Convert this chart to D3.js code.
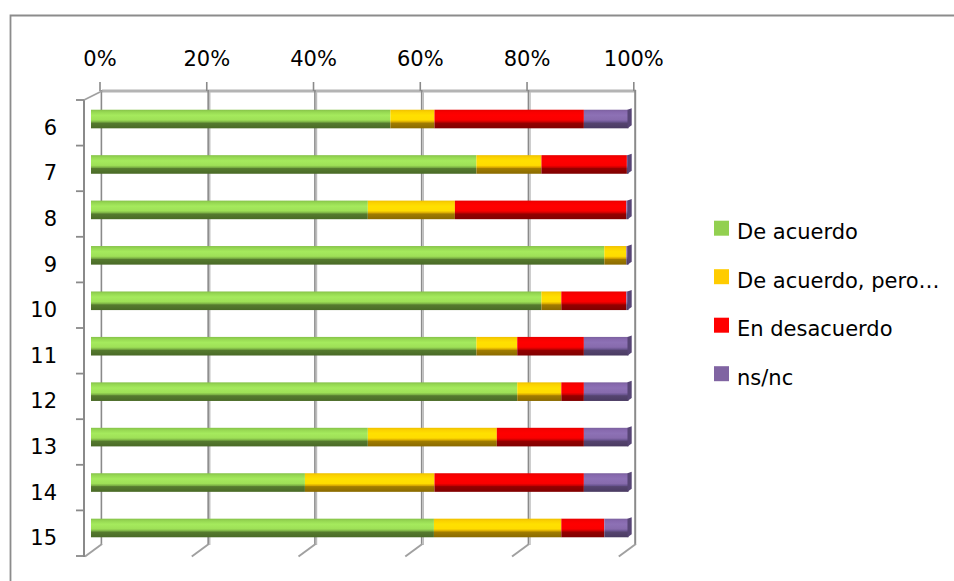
<!DOCTYPE html>
<html>
<head>
<meta charset="utf-8">
<script src="https://cdn.jsdelivr.net/npm/d3@7"></script>
<style>
  html, body { margin: 0; padding: 0; background: #fff; }
  svg { display: block; font-family: "DejaVu Sans", sans-serif; }
</style>
</head>
<body>
<svg id="chart" width="954" height="581"></svg>
<script>
// ---- data ----
const categories = ["6", "7", "8", "9", "10", "11", "12", "13", "14", "15"];
const seriesNames = ["De acuerdo", "De acuerdo, pero…", "En desacuerdo", "ns/nc"];
const deAcuerdo   = [55.7, 71.7, 51.5, 95.5, 83.8, 71.7, 79.3, 51.5, 39.8, 63.8];
const deAcuerdoPero = [8.2, 12.1, 16.2, 4.1, 3.7, 7.6, 8.2, 24.0, 24.1, 23.7];
const enDesacuerdo = [27.8, 15.9, 31.9, 0.0, 12.1, 12.4, 4.2, 16.2, 27.8, 8.0];
const nsnc        = [8.3, 0.3, 0.4, 0.4, 0.4, 8.3, 8.3, 8.3, 8.3, 4.5];
const tickValues  = [0, 20, 40, 60, 80, 100];
const tickLabels  = ["0%", "20%", "40%", "60%", "80%", "100%"];

const seriesColors = ["#92D050", "#FFCC00", "#FF0000", "#8064A2"];
const gradStops = [
  [["0", "#86c24a"], ["0.12", "#96d852"], ["0.3", "#a5ea5d"], ["0.55", "#9ee057"], ["0.66", "#7bb044"], ["0.72", "#557a2e"], ["1", "#4a6a27"]],
  [["0", "#eec000"], ["0.12", "#fbd200"], ["0.3", "#ffe000"], ["0.55", "#ffdc00"], ["0.66", "#d8a800"], ["0.72", "#a07c00"], ["1", "#8a6a00"]],
  [["0", "#e60000"], ["0.12", "#f80000"], ["0.3", "#ff0000"], ["0.55", "#fa0000"], ["0.66", "#c80000"], ["0.72", "#940000"], ["1", "#800000"]],
  [["0", "#7b619e"], ["0.12", "#8769ae"], ["0.3", "#8d71b5"], ["0.55", "#876bad"], ["0.66", "#6a5590"], ["0.72", "#55446f"], ["1", "#4a3b62"]]
];

const rows = categories.map((c, i) => ({
  cat: c,
  v: [deAcuerdo[i], deAcuerdoPero[i], enDesacuerdo[i], nsnc[i]]
}));

const svg = d3.select("#chart");

// outer border (only top & left visible)
svg.append("path")
  .attr("d", "M10.5,581 V15.5 H954")
  .attr("fill", "none").attr("stroke", "#8c8c8c").attr("stroke-width", 1.8);

// ---- scales ----
const xFront = d3.scaleLinear().domain([0, 100]).range([91, 628.5]);
const xBack  = d3.scaleLinear().domain([0, 100]).range([102, 635.8]);
const yWall  = d3.scaleBand().domain(categories).range([100, 556]).padding(0);
const yFront = d3.scaleBand().domain(categories).range([96.3, 550.7]).padding(0);
const barH = 18.6;

// gradients
const defs = svg.append("defs");
gradStops.forEach((stops, k) => {
  const g = defs.append("linearGradient").attr("id", "g" + k)
    .attr("x1", 0).attr("y1", 0).attr("x2", 0).attr("y2", 1);
  stops.forEach(s => g.append("stop").attr("offset", s[0]).attr("stop-color", s[1]));
});

const wallTop = 91, wallBottom = 545;

// back wall top edge
svg.append("line")
  .attr("x1", xBack(0)).attr("x2", xBack(100))
  .attr("y1", wallTop).attr("y2", wallTop)
  .attr("stroke", "#b4b4b4").attr("stroke-width", 3);

// vertical gridlines + floor diagonals
const grid = svg.append("g");
tickValues.forEach(t => {
  const xb = xBack(t);
  const last = t === 100;
  grid.append("line")
    .attr("x1", xb - 0.6).attr("x2", xb - 0.6)
    .attr("y1", wallTop - 1).attr("y2", wallBottom)
    .attr("stroke", "#8a8a8a").attr("stroke-width", last ? 2 : 1.6);
  if (!last && t !== 0) {
    grid.append("line")
      .attr("x1", xb + 1).attr("x2", xb + 1)
      .attr("y1", wallTop + 1).attr("y2", wallBottom)
      .attr("stroke", "#bdbdbd").attr("stroke-width", 1.4);
  }
  // floor diagonal
  grid.append("line")
    .attr("x1", xb).attr("y1", wallBottom - 1)
    .attr("x2", xb - 17).attr("y2", 556.5)
    .attr("stroke", "#a0a0a0").attr("stroke-width", 2);
  // top tick
  grid.append("line")
    .attr("x1", xb - 2).attr("x2", xb - 2)
    .attr("y1", 82).attr("y2", wallTop)
    .attr("stroke", "#8a8a8a").attr("stroke-width", 1.6);
});

// top labels
svg.append("g").selectAll("text")
  .data(tickValues)
  .join("text")
  .attr("x", d => xBack(d) - 2)
  .attr("y", 66)
  .attr("text-anchor", "middle")
  .attr("font-size", 21)
  .attr("fill", "#000")
  .text((d, i) => tickLabels[i]);

// left axis
svg.append("line")
  .attr("x1", 84).attr("x2", 84).attr("y1", yWall.range()[0]).attr("y2", yWall.range()[1] + 1)
  .attr("stroke", "#8a8a8a").attr("stroke-width", 2);
svg.append("line")
  .attr("x1", 84).attr("y1", yWall.range()[0])
  .attr("x2", xBack(0)).attr("y2", wallTop)
  .attr("stroke", "#a0a0a0").attr("stroke-width", 1.8);
const boundaries = categories.map(c => yWall(c)).concat([yWall.range()[1]]);
svg.append("g").selectAll("line")
  .data(boundaries)
  .join("line")
  .attr("x1", 76).attr("x2", 84)
  .attr("y1", d => d).attr("y2", d => d)
  .attr("stroke", "#8a8a8a").attr("stroke-width", 1.8);

// category labels
svg.append("g").selectAll("text")
  .data(categories)
  .join("text")
  .attr("x", 57)
  .attr("y", d => yWall(d) + yWall.bandwidth() / 2 + 12)
  .attr("text-anchor", "end")
  .attr("font-size", 21)
  .attr("fill", "#000")
  .text(d => d);

// bars
const bars = svg.append("g");
rows.forEach(r => {
  const y0 = yFront(r.cat) + yFront.bandwidth() / 2 - barH / 2;
  let acc = 0;
  const segs = r.v.map((v, k) => {
    const s = { k, a: acc, b: acc + v };
    acc += v;
    return s;
  });
  bars.selectAll(null)
    .data(segs.filter(s => s.b > s.a))
    .join("rect")
    .attr("x", s => xFront(s.a))
    .attr("y", y0)
    .attr("width", s => xFront(s.b) - xFront(s.a))
    .attr("height", barH)
    .attr("fill", s => "url(#g" + s.k + ")");
  // right end cap (3D face)
  const xe = xFront(acc);
  bars.append("path")
    .attr("d", `M${xe - 1},${y0} L${xe + 3.2},${y0 - 1.5} L${xe + 3.2},${y0 + barH - 3} L${xe - 1},${y0 + barH} Z`)
    .attr("fill", "#574575");
});

// legend
const legend = svg.append("g").attr("transform", "translate(714,220.7)");
seriesNames.forEach((name, k) => {
  const g = legend.append("g").attr("transform", `translate(0,${k * 48.5})`);
  g.append("rect").attr("width", 15).attr("height", 15).attr("fill", seriesColors[k]);
  g.append("text").attr("x", 23).attr("y", 18.6)
    .attr("font-size", 21).attr("fill", "#000").text(name);
});
</script>
</body>
</html>
